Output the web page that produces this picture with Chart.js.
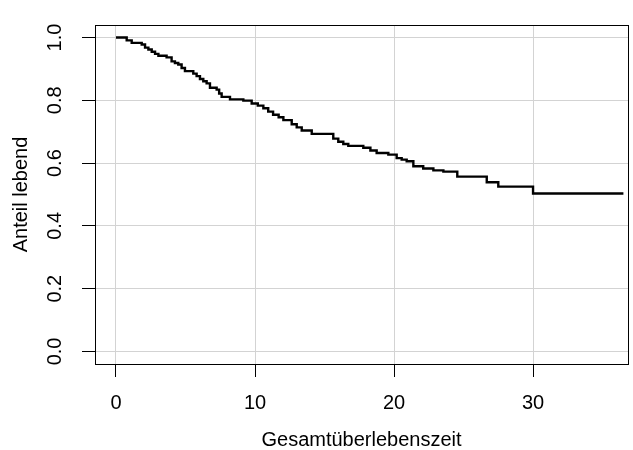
<!DOCTYPE html>
<html>
<head>
<meta charset="utf-8">
<script src="https://cdn.jsdelivr.net/npm/chart.js@4"></script>
<style>
    body { margin: 0; background: #fff; }
    canvas { display: block; }
</style>
</head>
<body>
<canvas id="grafico" width="633" height="450"></canvas>
<script>
// Kaplan-Meier Schätzung
const zeiten = [0, 0.77, 1.13, 1.85, 2.09, 2.33, 2.57, 2.81, 3.05, 3.64, 4.0, 4.24, 4.48, 4.72,
    4.96, 5.56, 5.8, 6.04, 6.28, 6.52, 6.76, 7.24, 7.42, 7.6, 8.2, 9.16, 9.76, 10.2, 10.6, 10.95,
    11.3, 11.7, 12.04, 12.64, 13.0, 13.36, 14.08, 15.63, 15.99, 16.35, 16.71, 17.79, 18.3, 18.75,
    19.59, 20.19, 20.55, 20.91, 21.39, 22.1, 22.83, 23.55, 24.55, 26.67, 27.5, 30.0, 36.5];
const anteil = [1.0, 0.991, 0.983, 0.978, 0.968, 0.962, 0.955, 0.948, 0.942, 0.937, 0.924, 0.919,
    0.914, 0.903, 0.893, 0.885, 0.877, 0.868, 0.861, 0.854, 0.840, 0.834, 0.822, 0.811, 0.803,
    0.799, 0.790, 0.783, 0.775, 0.764, 0.754, 0.746, 0.737, 0.724, 0.714, 0.704, 0.693, 0.678,
    0.668, 0.661, 0.655, 0.649, 0.640, 0.632, 0.627, 0.616, 0.611, 0.606, 0.590, 0.583, 0.577,
    0.573, 0.557, 0.539, 0.525, 0.503, 0.503];

const xTicks = [0, 10, 20, 30];
const yTicks = [0, 0.2, 0.4, 0.6, 0.8, 1.0];

const schrift = { family: 'Liberation Sans, Arial, sans-serif', size: 20 };

// Rahmen um die Plotfläche
const rahmen = {
    id: 'rahmen',
    afterDatasetsDraw(chart) {
        const a = chart.chartArea;
        const ctx = chart.ctx;
        ctx.save();
        ctx.strokeStyle = '#000';
        ctx.lineWidth = 1;
        ctx.strokeRect(a.left + 0.5, a.top + 0.5, a.right - a.left, a.bottom - a.top);
        ctx.restore();
    }
};

const punkte = zeiten.map((t, i) => ({ x: t, y: anteil[i] }));

new Chart(document.getElementById('grafico'), {
    type: 'line',
    data: {
        datasets: [{
            data: punkte,
            borderColor: '#000',
            borderWidth: 2.4,
            pointRadius: 0,
            stepped: 'before',
            tension: 0
        }]
    },
    options: {
        responsive: false,
        animation: false,
        layout: { padding: { top: 14, right: 5, left: 0, bottom: 0 } },
        plugins: { legend: { display: false }, tooltip: { enabled: false } },
        scales: {
            x: {
                type: 'linear',
                min: -1.51,
                max: 36.83,
                afterBuildTicks: s => { s.ticks = xTicks.map(v => ({ value: v })); },
                afterFit: s => { s.height = 86; },
                grid: { color: '#d3d3d3', tickColor: '#000', tickLength: 13, lineWidth: 1 },
                border: { color: '#000' },
                ticks: { color: '#000', font: schrift, padding: 14, maxRotation: 0 },
                title: {
                    display: true,
                    text: 'Gesamtüberlebenszeit',
                    color: '#000',
                    font: { ...schrift, lineHeight: 1 },
                    padding: { top: 0, bottom: 0 }
                }
            },
            y: {
                min: -0.04,
                max: 1.04,
                afterBuildTicks: s => { s.ticks = yTicks.map(v => ({ value: v })); },
                afterFit: s => { s.width = 95; },
                grid: { color: '#d3d3d3', tickColor: '#000', tickLength: 13, lineWidth: 1 },
                border: { color: '#000' },
                ticks: {
                    color: '#000',
                    font: schrift,
                    padding: 13,
                    minRotation: 90,
                    maxRotation: 90,
                    crossAlign: 'center',
                    callback: v => v.toFixed(1)
                },
                title: {
                    display: true,
                    text: 'Anteil lebend',
                    color: '#000',
                    font: { ...schrift, lineHeight: 1 },
                    padding: { top: 11, bottom: 0 }
                }
            }
        }
    },
    plugins: [rahmen]
});
</script>
</body>
</html>
